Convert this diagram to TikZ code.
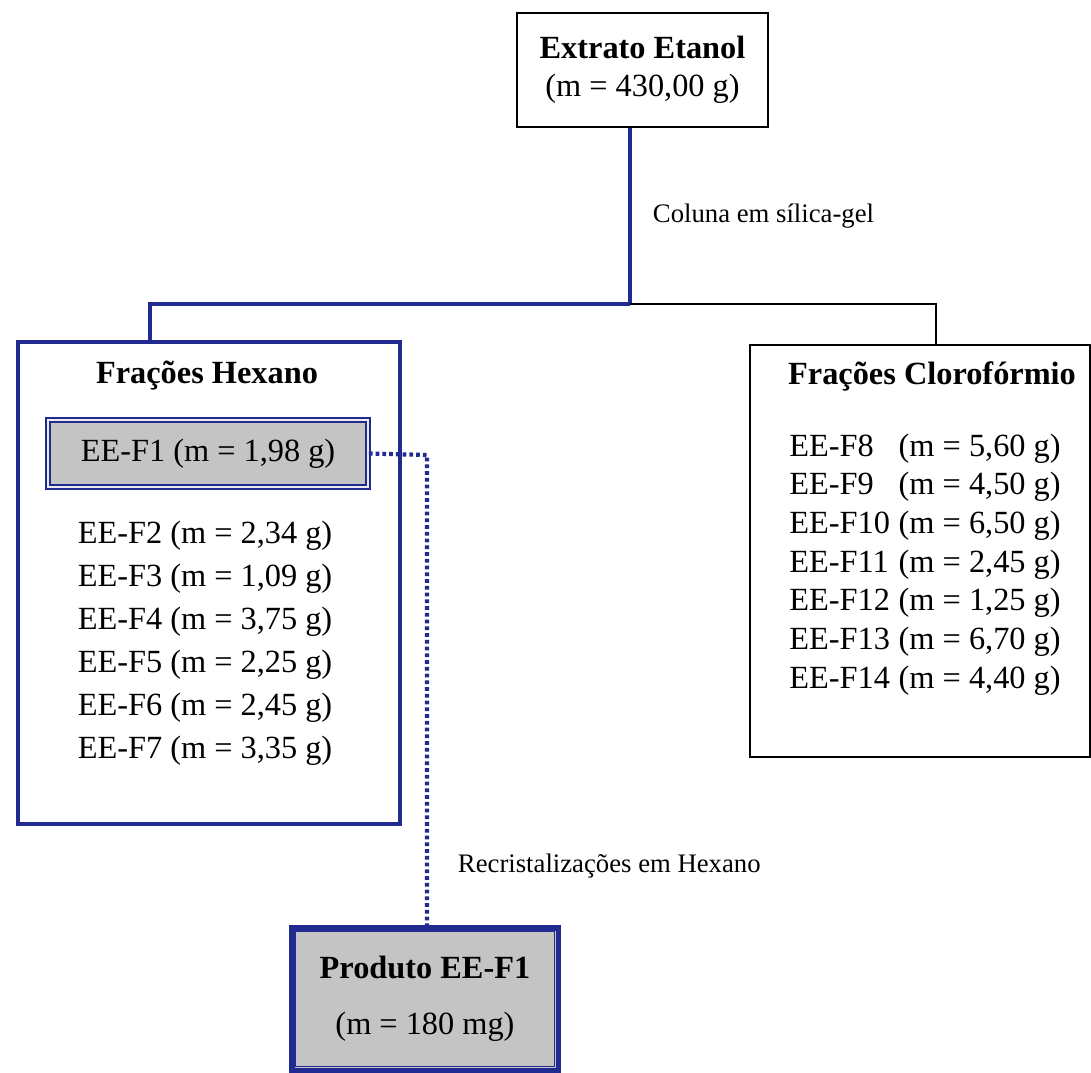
\documentclass[tikz,border=0pt]{standalone}
\usepackage{fontspec}
\setmainfont{Liberation Serif}
\definecolor{fracblue}{RGB}{32,42,145}
\definecolor{boxgray}{RGB}{196,196,196}
\usetikzlibrary{positioning, calc}

\begin{document}
\begin{tikzpicture}[
  x=0.025cm, y=-0.025cm,
  plainbox/.style={draw=black, line width=0.9pt, align=center,
                   font=\fontsize{23}{27}\selectfont},
  hexbox/.style={draw=fracblue, line width=3pt},
  clorobox/.style={draw=black, line width=1pt},
  selbox/.style={draw=fracblue, line width=1.2pt, double=gray!15,
                 double distance=1.3pt, fill=boxgray,
                 font=\fontsize{23}{27}\selectfont},
  prodbox/.style={draw=fracblue, line width=3.6pt, fill=boxgray, align=center,
                  font=\fontsize{23}{40}\selectfont},
  title/.style={font=\bfseries\fontsize{23}{27}\selectfont},
  steplabel/.style={font=\fontsize{19}{23}\selectfont, anchor=west},
  bluelink/.style={fracblue, line width=2.8pt},
  blacklink/.style={black, line width=1pt},
  dotlink/.style={fracblue, line width=3pt, dash pattern=on 2.6pt off 2.2pt}
]
\useasboundingbox (0,0) rectangle (1091,1072);

\node[plainbox, minimum width=6.275cm, minimum height=2.85cm] (ext) at (642.5,70)
  {\textbf{Extrato Etanol}\\(m = 430,00 g)};

\node[hexbox, minimum width=9.55cm, minimum height=12.05cm] (hex) at (209,583) {};
\node[clorobox, minimum width=8.5cm, minimum height=10.3cm] (clo) at (920,551) {};

\node[title] (hextitle) at (207,376) {Frações Hexano};
\node[title] (clotitle) at (932,376) {Frações Clorofórmio};

\node[selbox, minimum width=8cm, minimum height=1.675cm] (f1) at (208,453.5)
  {EE-F1 (m = 1,98 g)};

\node[align=left, font=\fontsize{23}{30.6}\selectfont] (hexlist) at (205,643)
  {EE-F2 (m = 2,34 g)\\EE-F3 (m = 1,09 g)\\EE-F4 (m = 3,75 g)\\
   EE-F5 (m = 2,25 g)\\EE-F6 (m = 2,45 g)\\EE-F7 (m = 3,35 g)};

\node[font=\fontsize{23}{27.5}\selectfont] (clolist) at (925,564.5)
  {\begin{tabular}{@{}l@{\hspace{0.27em}}l@{}}
   EE-F8 & (m = 5,60 g)\\ EE-F9 & (m = 4,50 g)\\ EE-F10 & (m = 6,50 g)\\
   EE-F11 & (m = 2,45 g)\\ EE-F12 & (m = 1,25 g)\\ EE-F13 & (m = 6,70 g)\\
   EE-F14 & (m = 4,40 g)
   \end{tabular}};

\node[prodbox, minimum width=6.65cm, minimum height=3.55cm] (prod) at (425,999)
  {\textbf{Produto EE-F1}\\(m = 180 mg)};
\draw[fracblue, line width=0.8pt] ([shift={(6,6)}]prod.north west)
  rectangle ([shift={(-6,-6)}]prod.south east);

\coordinate (split) at (630,304);
\coordinate (hexdrop) at (150,304);
\coordinate (clodrop) at (936,304);
\coordinate (turn) at (427,455);

\draw[bluelink] (split |- ext.south) -- (split);
\draw[bluelink] (split) -- (hexdrop) -- (hexdrop |- hex.north);
\draw[blacklink] (split) -- (clodrop) -- (clodrop |- clo.north);
\draw[dotlink] (f1.east) -- (turn) -- (turn |- prod.north);

\node[steplabel] (col) at (648,216) {Coluna em sílica-gel};
\node[steplabel] (rec) at (453,866) {Recristalizações em Hexano};
\end{tikzpicture}
\end{document}
